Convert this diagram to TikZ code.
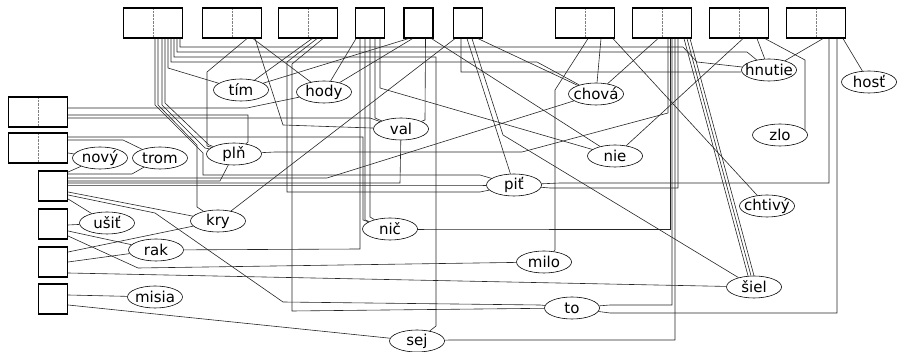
\documentclass[tikz,border=0pt]{standalone}
\usepackage{fontspec}
\setmainfont{DejaVu Sans}
\usetikzlibrary{shapes.geometric}

\tikzset{
    wire/.style={line width=0.6pt, draw=black!85},
    wbox/.style={draw, line width=1.2pt, minimum width=29pt, minimum height=30pt, inner sep=0pt},
    dbox/.style={wbox, minimum width=59pt,
        path picture={\draw[densely dotted, line width=0.4pt, gray]
            (path picture bounding box.north) -- (path picture bounding box.south);}},
    word/.style={draw, ellipse, line width=0.6pt, minimum width=55pt, minimum height=22pt,
        inner xsep=-12pt, inner ysep=-3pt, font=\fontsize{15}{17}\selectfont}
}

\begin{document}
\begin{tikzpicture}[x=1pt, y=-1pt]
    \useasboundingbox (0,0) rectangle (897,352);

    % ==========================================
    % 1. BOXY HORE
    % ==========================================
    \node[dbox] (t1) at (153,23) {};
    \node[dbox] (t2) at (232,23) {};
    \node[dbox] (t3) at (308,23) {};
    \node[wbox] (t4) at (370,23) {};
    \node[wbox] (t5) at (418.5,23) {};
    \node[wbox] (t6) at (468,23) {};
    \node[dbox] (t7) at (585,23) {};
    \node[dbox] (t8) at (662,23) {};
    \node[dbox] (t9) at (739,23) {};
    \node[dbox] (t10) at (816,23) {};

    % ==========================================
    % 2. BOXY VLAVO
    % ==========================================
    \node[dbox] (l1) at (38,112) {};
    \node[dbox] (l2) at (38,148) {};
    \node[wbox] (l3) at (53,186) {};
    \node[wbox] (l4) at (53,224) {};
    \node[wbox] (l5) at (53,262) {};
    \node[wbox] (l6) at (53,299) {};

    % ==========================================
    % 3. SLOVA
    % ==========================================
    \node[word] (tim) at (241,90) {tím};
    \node[word] (hody) at (324,92) {hody};
    \node[word] (val) at (401,129) {val};
    \node[word] (pln) at (234,154) {plň};
    \node[word] (novy) at (100,158) {nový};
    \node[word] (trom) at (160,158) {trom};
    \node[word] (chova) at (596,94) {chová};
    \node[word] (hnutie) at (769,70) {hnutie};
    \node[word] (host) at (869,82) {hosť};
    \node[word] (zlo) at (780,135) {zlo};
    \node[word] (nie) at (615,156) {nie};
    \node[word] (pit) at (514,185) {piť};
    \node[word] (chtivy) at (767,206) {chtivý};
    \node[word] (milo) at (544,262) {milo};
    \node[word] (siel) at (754,287) {šiel};
    \node[word] (to1) at (572,308) {to};
    \node[word] (sej) at (417,341) {sej};
    \node[word] (usit) at (107,223) {ušiť};
    \node[word] (kry) at (218,221) {kry};
    \node[word] (rak) at (156,250) {rak};
    \node[word] (misia) at (155,297) {misia};
    \node[word] (nic) at (390,229) {nič};

    % ==========================================
    % 4. SPOJE
    % ==========================================
    % t1
    \draw[wire] ([xshift=2pt]t1.south) -- (155,105) -- (203,153) -- (203,175) -- (480,175) -- (pit);
    \draw[wire] ([xshift=5pt]t1.south) -- (158,105) -- (197,145) -- (197,207) -- (kry);
    \draw[wire] ([xshift=9pt]t1.south) -- (162,105) -- (205,148) -- (pln);
    \draw[wire] ([xshift=12pt]t1.south) -- (165,103) -- (209,145) -- (pln);
    \draw[wire] ([xshift=15pt]t1.south) -- (168,68) -- (tim);
    \draw[wire] ([xshift=18pt]t1.south) -- (171,62) -- (537,62) -- (chova);
    \draw[wire] ([xshift=21pt]t1.south) -- (174,57) -- (436,57) -- (436,326) -- (sej);
    \draw[wire] ([xshift=24pt]t1.south) -- (177,52) -- (747,52) -- (hnutie);
    \draw[wire] ([xshift=27pt]t1.south) -- (180,47) -- (683,47) -- (697,62) -- (hnutie);
    % t2
    \draw[wire] ([xshift=15pt]t2.south) -- (207,72) -- (207,146) -- (pln);
    \draw[wire] ([xshift=21pt]t2.south) -- (hody);
    \draw[wire] ([xshift=23pt]t2.south) -- (283,125) -- (val);
    % t3
    \draw[wire] ([xshift=4pt]t3.south) -- (tim);
    \draw[wire] ([xshift=9pt]t3.south) -- (287,62) -- (287,192) -- (480,192) -- (pit);
    \draw[wire] ([xshift=15pt]t3.south) -- (292,64) -- (292,311) -- (to1);
    % t4
    \draw[wire] ([xshift=-14pt]t4.south) -- (hody);
    \draw[wire] ([xshift=-10pt]t4.south) -- (360,249) -- (rak);
    \draw[wire] ([xshift=-5pt]t4.south) -- (365,220) -- (nic);
    \draw[wire] ([xshift=0pt]t4.south) -- (370,217) -- (nic);
    \draw[wire] ([xshift=5pt]t4.south) -- (375,118) -- (val);
    \draw[wire] ([xshift=10pt]t4.south) -- (380,88) -- (nie);
    % t5
    \draw[wire] ([xshift=-10pt]t5.south) -- (tim);
    \draw[wire] ([xshift=-6pt]t5.south) -- (hody);
    \draw[wire] ([xshift=7pt]t5.south) -- (425,120) -- (val);
    \draw[wire] ([xshift=13pt]t5.south) -- (nie);
    % t6
    \draw[wire] ([xshift=-13pt]t6.south) -- (kry);
    \draw[wire] ([xshift=-7pt]t6.south) -- (461,72) -- (740,72) -- (hnutie);
    \draw[wire] ([xshift=-1pt]t6.south) -- (pit);
    \draw[wire] ([xshift=4pt]t6.south) -- (503,135) -- (siel);
    \draw[wire] ([xshift=10pt]t6.south) -- (chova);
    % t7
    \draw[wire] ([xshift=3pt]t7.south) -- (555,90) -- (555,250) -- (milo);
    \draw[wire] ([xshift=16pt]t7.south) -- (chova);
    \draw[wire] ([xshift=28pt]t7.south) -- (chtivy);
    % t8
    \draw[wire] ([xshift=-4pt]t8.south) -- (chova);
    \draw[wire] ([xshift=6pt]t8.south) -- (668,113) -- (522,152) -- (275,152) -- (pln);
    \draw[wire] ([xshift=8pt]t8.south) -- (670,229) -- (430,229) -- (nic);
    \draw[wire] ([xshift=10pt]t8.south) -- (672,305) -- (610,305) -- (to1);
    \draw[wire] ([xshift=13pt]t8.south) -- (675,340) -- (450,340) -- (sej);
    \draw[wire] ([xshift=16pt]t8.south) -- (678,188) -- (550,188) -- (pit);
    \draw[wire] ([xshift=22pt]t8.south) -- ([xshift=-6pt]siel.north);
    \draw[wire] ([xshift=25pt]t8.south) -- ([xshift=-3pt]siel.north);
    \draw[wire] ([xshift=28pt]t8.south) -- (siel.north);
    % t9
    \draw[wire] ([xshift=4pt]t9.south) -- (nie);
    \draw[wire] ([xshift=18pt]t9.south) -- (hnutie);
    \draw[wire] ([xshift=26pt]t9.south) -- (805,60) -- (805,130) -- (zlo);
    % t10
    \draw[wire] ([xshift=7pt]t10.south) -- (hnutie);
    \draw[wire] ([xshift=13pt]t10.south) -- (829,183) -- (560,183) -- (pit);
    \draw[wire] ([xshift=21pt]t10.south) -- (837,313) -- (610,313) -- (to1);
    \draw[wire] ([xshift=27pt]t10.south) -- (host);
    % l1
    \draw[wire] ([yshift=4pt]l1.east) -- (247,108) -- (hody);
    \draw[wire] ([yshift=-3pt]l1.east) -- (248,115) -- (248,142) -- (pln);
    \draw[wire] ([yshift=-6pt]l1.east) -- (370,118) -- (val);
    % l2
    \draw[wire] ([yshift=11pt]l2.east) -- (363,137) -- (363,220) -- (nic);
    \draw[wire] ([yshift=8pt]l2.east) -- (123,140) -- (trom);
    \draw[wire] ([yshift=-5pt]l2.east) -- (novy);
    % l3
    \draw[wire] ([yshift=14pt]l3.east) -- (novy);
    \draw[wire] ([yshift=12pt]l3.east) -- (132,174) -- (trom);
    \draw[wire] ([yshift=8pt]l3.east) -- (327,178) -- (chova);
    \draw[wire] ([yshift=5pt]l3.east) -- (220,181) -- (pln);
    \draw[wire] ([yshift=3pt]l3.east) -- (400,183) -- (val);
    \draw[wire] ([yshift=1pt]l3.east) -- (480,185) -- (pit);
    \draw[wire] ([yshift=-6pt]l3.east) -- (kry);
    \draw[wire] ([yshift=-9pt]l3.east) -- (155,213) -- (283,302) -- (540,305) -- (to1);
    \draw[wire] ([yshift=-13pt]l3.east) -- (usit);
    % l4
    \draw[wire] ([yshift=-1pt]l4.east) -- (usit);
    \draw[wire] ([yshift=-7pt]l4.east) -- (rak);
    \draw[wire] ([yshift=-12pt]l4.east) -- (138,268) -- (milo);
    % l5
    \draw[wire] ([yshift=10pt]l5.east) -- (kry);
    \draw[wire] (l5.east) -- (rak);
    \draw[wire] ([yshift=-11pt]l5.east) -- (siel);
    % l6
    \draw[wire] ([yshift=4pt]l6.east) -- (misia);
    \draw[wire] ([yshift=-6pt]l6.east) -- (sej);

\end{tikzpicture}
\end{document}
